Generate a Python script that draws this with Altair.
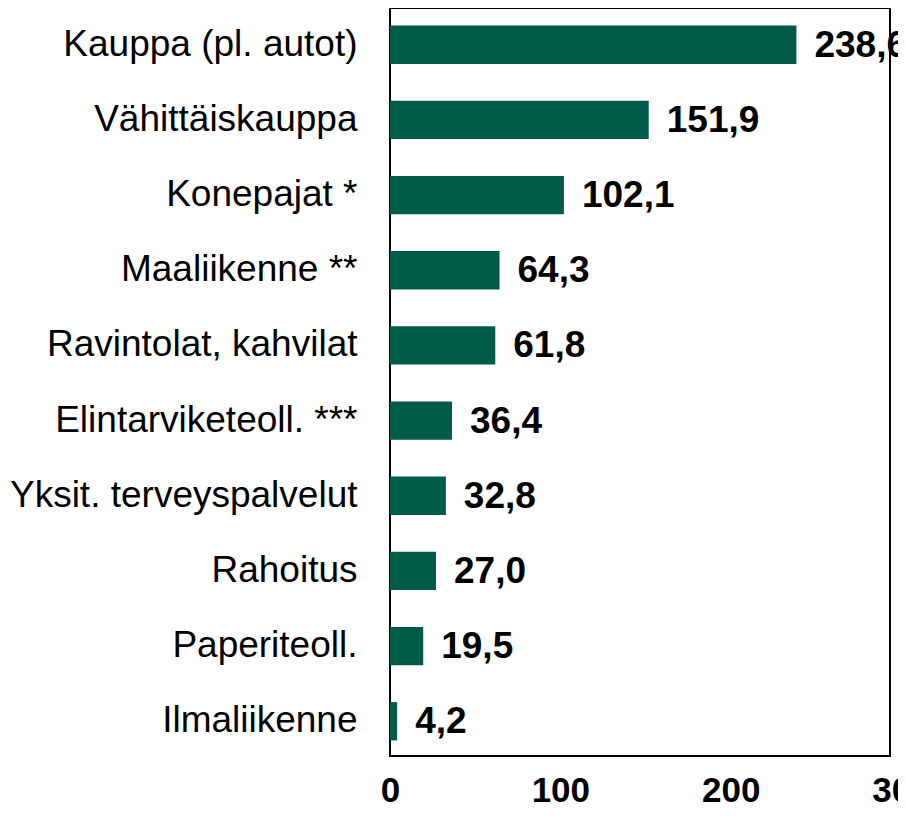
import altair as alt
import pandas as pd

categories = [
    "Kauppa (pl. autot)",
    "Vähittäiskauppa",
    "Konepajat *",
    "Maaliikenne **",
    "Ravintolat, kahvilat",
    "Elintarviketeoll. ***",
    "Yksit. terveyspalvelut",
    "Rahoitus",
    "Paperiteoll.",
    "Ilmaliikenne",
]
values = [238.6, 151.9, 102.1, 64.3, 61.8, 36.4, 32.8, 27.0, 19.5, 4.2]
x_ticks = [0, 100, 200, 300]

df = pd.DataFrame({
    "category": categories,
    "value": values,
    "label": [f"{v:.1f}".replace(".", ",") for v in values],
})

FONT = "Liberation Sans"

y_scale = alt.Scale(paddingInner=0.49, paddingOuter=0.26, range=[-2, 752])

y_enc = alt.Y(
    "category:N",
    sort=None,
    scale=y_scale,
    axis=alt.Axis(
        title=None,
        ticks=False,
        domain=False,
        labelFont=FONT,
        labelFontSize=37,
        labelColor="black",
        labelPadding=33,
        labelLimit=500,
    ),
)
x_scale = alt.Scale(domain=[0, 300], nice=False, zero=True, range=[0, 511])
x_enc = alt.X(
    "value:Q",
    scale=x_scale,
    axis=alt.Axis(
        title=None,
        values=x_ticks,
        ticks=False,
        domain=False,
        grid=False,
        labelFont=FONT,
        labelFontSize=35,
        labelFontWeight="bold",
        labelColor="black",
        labelPadding=17,
        labelFlush=False,
        labelOverlap=False,
    ),
)

bars = alt.Chart(df).mark_bar(color="#005B48").encode(x=x_enc, y=y_enc)

text = alt.Chart(df).mark_text(
    align="left",
    baseline="middle",
    dx=18,
    dy=1,
    font=FONT,
    fontSize=37,
    fontWeight="bold",
    color="black",
).encode(
    x=alt.X("value:Q", scale=x_scale),
    y=alt.Y("category:N", sort=None, scale=y_scale),
    text="label:N",
)

chart = (
    (bars + text)
    .properties(
        width=500,
        height=748,
        autosize=alt.AutoSizeParams(type="none"),
        padding={"left": 382, "top": 0, "right": 8, "bottom": 55},
    )
    .configure(background="white")
    .configure_view(stroke="black", strokeWidth=2)
)

chart.save("out.html", embed_options={"renderer": "svg", "actions": False})
